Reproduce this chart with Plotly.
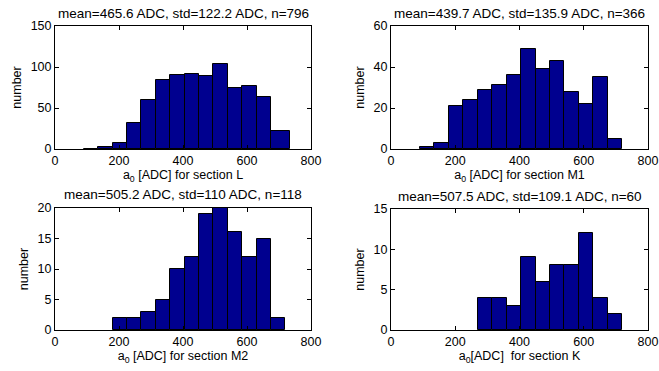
import plotly.graph_objects as go
import numpy as np

# histogram bin edges and counts for each detector section
edges_L = [90, 135, 180, 225, 270, 315, 360, 405, 450, 495, 540, 585, 630, 675, 735]
counts_L = [0, 2, 7, 32, 60, 84, 90, 91, 89, 104, 74, 77, 64, 22]

edges_M1 = [90, 135, 180, 225, 270, 315, 360, 405, 450, 495, 540, 585, 630, 675, 720]
counts_M1 = [1, 3, 21, 24, 29, 31, 36, 49, 39, 43, 28, 22, 35, 5]

edges_M2 = [180, 225, 270, 315, 360, 405, 450, 495, 540, 585, 630, 675, 720]
counts_M2 = [2, 2, 3, 5, 10, 12, 19, 20, 16, 12, 15, 2]

edges_K = [270, 315, 360, 405, 450, 495, 540, 585, 630, 675, 720]
counts_K = [4, 4, 3, 9, 6, 8, 8, 12, 4, 2]

titles = ["mean=465.6 ADC, std=122.2 ADC, n=796",
          "mean=439.7 ADC, std=135.9 ADC, n=366",
          "mean=505.2 ADC, std=110 ADC, n=118",
          "mean=507.5 ADC, std=109.1 ADC, n=60"]
xlabels = ["a<sub>0</sub> [ADC] for section L",
           "a<sub>0</sub> [ADC] for section M1",
           "a<sub>0</sub> [ADC] for section M2",
           "a<sub>0</sub>[ADC]  for section K"]
y_max = [150, 60, 20, 15]
y_step = [50, 20, 5, 5]

W, H = 659, 371
FONT = "Liberation Sans, Arial, sans-serif"
# panel boxes in pixels: left, right, top, bottom
boxes = [(55, 311, 26, 149), (391, 648, 26, 149),
         (55, 311, 208, 330), (391, 648, 209, 330)]

fig = go.Figure()
panels = [(edges_L, counts_L), (edges_M1, counts_M1),
          (edges_M2, counts_M2), (edges_K, counts_K)]

for i, (edges, counts) in enumerate(panels):
    e = np.array(edges, dtype=float)
    centers = (e[:-1] + e[1:]) / 2
    widths = e[1:] - e[:-1]
    sfx = "" if i == 0 else str(i + 1)
    fig.add_trace(go.Bar(
        x=centers, y=counts, width=widths,
        marker=dict(color="#00008F", line=dict(color="black", width=1)),
        xaxis="x" + sfx, yaxis="y" + sfx, showlegend=False,
    ))
    l, r, t, b = boxes[i]
    common = dict(showline=True, linecolor="black", linewidth=1, mirror="ticks",
                  ticks="inside", ticklen=4, tickcolor="black", showgrid=False,
                  zeroline=False, automargin=False,
                  tickfont=dict(family=FONT, size=12.5, color="black"))
    fig.update_layout(**{
        "xaxis" + sfx: dict(domain=[l / W, r / W], range=[0, 800], dtick=200,
                            anchor="y" + sfx,
                            title=dict(text=xlabels[i], standoff=0,
                                       font=dict(family=FONT, size=12.5, color="black")),
                            **common),
        "yaxis" + sfx: dict(domain=[1 - b / H, 1 - t / H], range=[0, y_max[i]],
                            dtick=y_step[i], anchor="x" + sfx,
                            title=dict(text="number", standoff=6,
                                       font=dict(family=FONT, size=12.5, color="black")),
                            **common),
    })
    fig.add_annotation(text=titles[i], xref="paper", yref="paper",
                       x=(l + r) / 2 / W, y=1 - (t - 13) / H, showarrow=False,
                       xanchor="center", yanchor="middle",
                       font=dict(family=FONT, size=13.5, color="black"))

fig.update_layout(width=W, height=H, margin=dict(l=0, r=0, t=0, b=0),
                  paper_bgcolor="white", plot_bgcolor="white", bargap=0)
# drop the browser's default body margin so the figure sits at the page corner
fig.write_html("out.html", config={"displayModeBar": False},
               post_script="document.body.style.margin='0';")
